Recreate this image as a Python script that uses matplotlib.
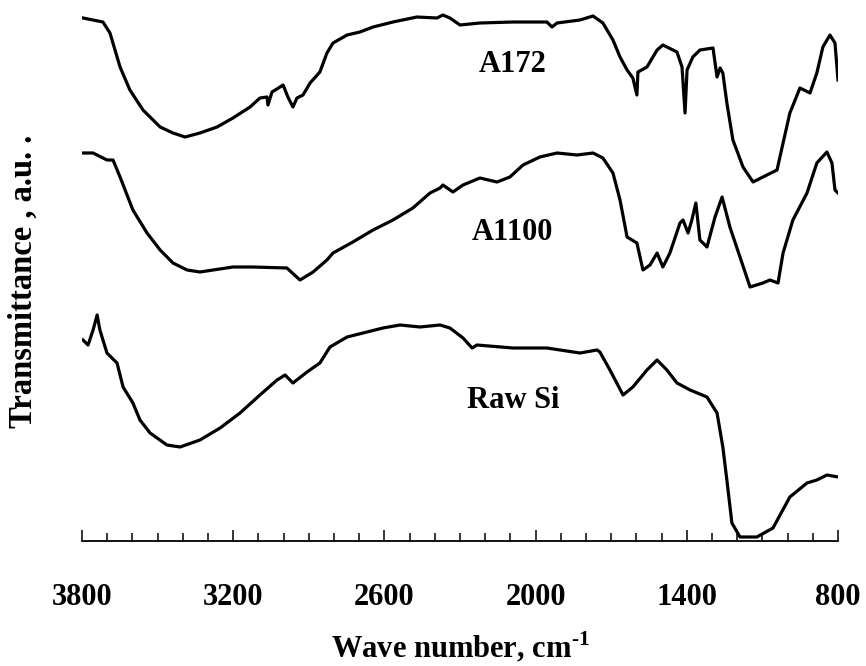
import matplotlib
matplotlib.use("Agg")
import matplotlib.pyplot as plt
from matplotlib.ticker import MultipleLocator

plt.rcParams['font.family'] = ['Liberation Serif', 'DejaVu Serif']
plt.rcParams['font.weight'] = 'bold'
plt.rcParams['mathtext.fontset'] = 'custom'
plt.rcParams['mathtext.rm'] = 'Liberation Serif:bold'
plt.rcParams['mathtext.bf'] = 'Liberation Serif:bold'

# ---- data (wave number, cm-1 ; transmittance, a.u.) ----
a172_wn = [3796, 3717, 3689, 3649, 3610, 3558, 3490, 3439, 3391, 3332, 3264, 3201,
           3133, 3094, 3066, 3062, 3046, 3014, 3002, 2983, 2963, 2947, 2923, 2895,
           2856, 2828, 2804, 2748, 2697, 2645, 2566, 2471, 2391, 2368, 2340, 2300,
           2221, 2090, 1955, 1935, 1915, 1824, 1772, 1733, 1693, 1665, 1637, 1614,
           1598, 1594, 1558, 1518, 1495, 1439, 1419, 1407, 1399, 1376, 1348, 1296,
           1280, 1268, 1257, 1241, 1217, 1177, 1137, 1098, 1042, 1018, 991, 951,
           911, 884, 860, 832, 812, 800]
a172_t = [52.3, 51.9, 50.8, 47.4, 45.1, 43.1, 41.4, 40.8, 40.4, 40.8, 41.4, 42.3,
          43.4, 44.3, 44.4, 43.6, 44.9, 45.4, 45.6, 44.4, 43.4, 44.3, 44.6, 45.8,
          46.9, 48.8, 49.8, 50.6, 50.9, 51.4, 51.9, 52.4, 52.3, 52.6, 52.3, 51.6,
          51.8, 51.9, 51.9, 51.4, 51.8, 52.1, 52.5, 51.8, 50.1, 48.4, 47.1, 46.3,
          44.6, 46.9, 47.4, 49.1, 49.6, 48.9, 47.4, 42.8, 47.1, 48.4, 49.1, 49.3,
          46.4, 47.3, 46.8, 43.8, 40.1, 37.4, 35.9, 36.4, 37.1, 39.8, 42.8, 45.3,
          44.8, 46.8, 49.4, 50.6, 49.8, 46.1]

a1100_wn = [3796, 3756, 3701, 3677, 3649, 3598, 3542, 3490, 3439, 3383, 3332, 3201,
            3121, 2987, 2935, 2883, 2828, 2804, 2725, 2645, 2566, 2487, 2419, 2379,
            2368, 2328, 2288, 2221, 2153, 2102, 2050, 1983, 1915, 1836, 1772, 1733,
            1693, 1665, 1637, 1598, 1574, 1546, 1518, 1495, 1467, 1427, 1415, 1395,
            1380, 1364, 1348, 1320, 1288, 1260, 1229, 1189, 1149, 1098, 1070, 1038,
            1018, 979, 923, 884, 844, 824, 812, 800]
a1100_t = [38.8, 38.8, 38.1, 38.1, 36.4, 33.1, 30.8, 29.1, 27.8, 27.1, 26.9, 27.4,
           27.4, 27.3, 26.1, 26.9, 28.1, 28.8, 29.9, 31.1, 32.1, 33.3, 34.8, 35.3,
           35.6, 34.9, 35.6, 36.3, 35.9, 36.4, 37.6, 38.4, 38.8, 38.6, 38.8, 38.3,
           36.8, 34.1, 30.4, 29.8, 27.1, 27.6, 28.8, 27.4, 28.8, 31.8, 32.1, 30.8,
           32.1, 33.8, 30.1, 29.4, 32.4, 34.4, 31.4, 28.4, 25.4, 25.8, 26.1, 25.8,
           28.8, 32.1, 34.8, 37.8, 38.9, 37.8, 35.1, 34.8]

raw_wn = [3796, 3776, 3756, 3740, 3729, 3701, 3661, 3637, 3598, 3570, 3530, 3463,
          3411, 3332, 3252, 3173, 3094, 3026, 2994, 2963, 2907, 2856, 2816, 2748,
          2669, 2606, 2538, 2459, 2379, 2340, 2288, 2252, 2233, 2090, 1955, 1824,
          1756, 1745, 1705, 1653, 1614, 1558, 1518, 1479, 1439, 1387, 1320, 1280,
          1257, 1241, 1221, 1189, 1122, 1058, 991, 923, 884, 844, 800]
raw_t = [20.1, 19.6, 21.1, 22.6, 21.1, 18.8, 17.8, 15.4, 13.8, 12.1, 10.8, 9.6,
         9.4, 10.1, 11.3, 12.8, 14.6, 16.1, 16.6, 15.8, 16.9, 17.8, 19.4, 20.4,
         20.9, 21.3, 21.6, 21.4, 21.6, 21.3, 20.3, 19.3, 19.6, 19.3, 19.3, 18.8,
         19.1, 18.9, 17.1, 14.6, 15.4, 17.1, 18.1, 17.1, 15.8, 15.1, 14.4, 12.8,
         9.4, 6.1, 1.8, 0.4, 0.4, 1.3, 4.4, 5.8, 6.1, 6.6, 6.4]

labels = ["A172", "A1100", "Raw Si"]
label_pos = [(2090, 47.7), (2090, 30.8), (2090, 14.1)]
xticks = [3800, 3200, 2600, 2000, 1400, 800]

fig = plt.figure(figsize=(8.66, 6.66), dpi=100)
ax = fig.add_axes([82/866, 125/666, 756/866, 531/666])

for wn, t in [(a172_wn, a172_t), (a1100_wn, a1100_t), (raw_wn, raw_t)]:
    ax.plot(wn, t, color='black', lw=2.3, solid_joinstyle='round')

for lab, (x, y) in zip(labels, label_pos):
    ax.text(x, y, lab, ha='center', va='center', fontsize=22, fontweight='bold')

ax.set_xlim(3800, 800)
ax.set_ylim(0, 53.1)
ax.set_xticks(xticks)
ax.xaxis.set_minor_locator(MultipleLocator(100))
ax.tick_params(axis='x', which='major', direction='in', length=8, width=1.1,
               pad=30, labelsize=22)
ax.tick_params(axis='x', which='minor', direction='in', length=6, width=1.1)
for lbl in ax.get_xticklabels():
    lbl.set_fontweight('bold')
ax.set_yticks([])
for s in ['top', 'right', 'left']:
    ax.spines[s].set_visible(False)
ax.spines['bottom'].set_linewidth(1.3)

ax.set_xlabel(r"Wave number, cm$^{\text{-1}}$", fontsize=22, fontweight='bold', labelpad=13)
fig.text(23/866, 1 - 281/666, "Transmittance , a.u. .", rotation=90, ha='center',
         va='center', fontsize=23.5, fontweight='bold')

fig.savefig("out.png", dpi=100)
